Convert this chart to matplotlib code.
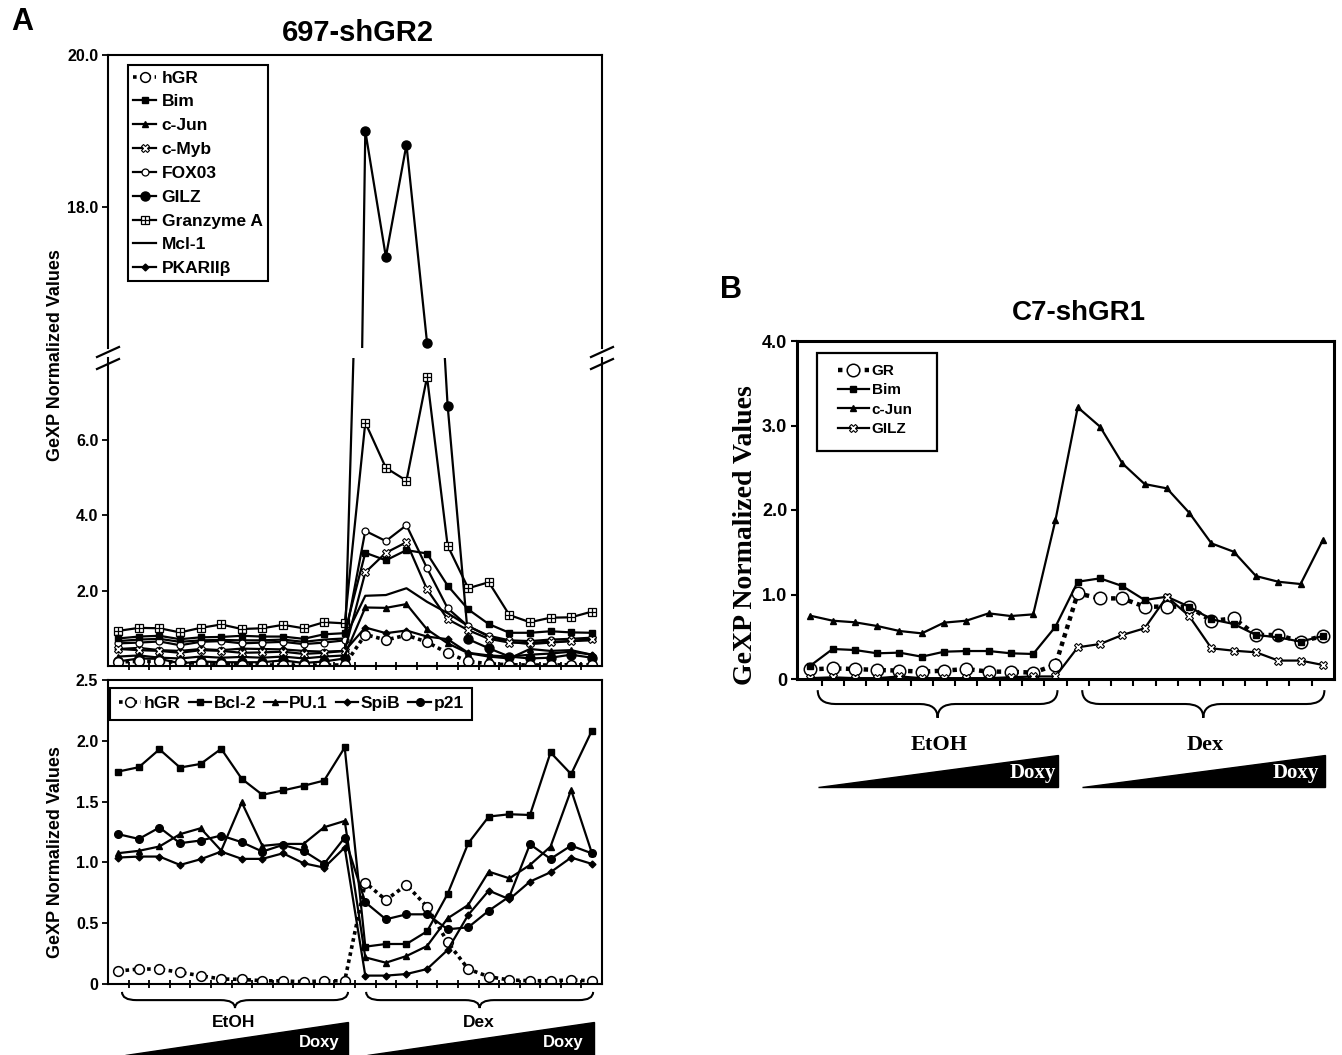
import numpy as np
import matplotlib
matplotlib.use("Agg")
import matplotlib.pyplot as plt
from matplotlib.path import Path
from matplotlib.patches import PathPatch, Polygon, Rectangle
from matplotlib.lines import Line2D
from matplotlib.legend_handler import HandlerTuple
import matplotlib.transforms as mtransforms

plt.rcParams['font.family'] = ['Liberation Sans', 'DejaVu Sans']
plt.rcParams['font.weight'] = 'bold'
plt.rcParams['axes.linewidth'] = 1.5

# ------------------------------------------------------------------ data
groups = ["EtOH", "Dex"]
n_per_group = 12
positions = list(range(2 * n_per_group))

# Panel A, upper chart (697-shGR2)
a_hGR = [0.107, 0.123, 0.123, 0.096, 0.068, 0.041, 0.038, 0.027, 0.025, 0.019, 0.025, 0.027,
         0.834, 0.691, 0.815, 0.636, 0.343, 0.123, 0.060, 0.033, 0.027, 0.027, 0.033, 0.027]
a_Bim = [0.73, 0.78, 0.80, 0.71, 0.76, 0.77, 0.80, 0.78, 0.78, 0.72, 0.84, 0.87,
         3.00, 2.80, 3.07, 2.98, 2.13, 1.50, 1.11, 0.88, 0.88, 0.92, 0.89, 0.88]
a_cJun = [0.25, 0.28, 0.22, 0.20, 0.25, 0.22, 0.24, 0.22, 0.25, 0.20, 0.25, 0.28,
          1.55, 1.54, 1.64, 0.97, 0.60, 0.34, 0.25, 0.20, 0.45, 0.40, 0.42, 0.30]
a_cMyb = [0.45, 0.42, 0.40, 0.35, 0.42, 0.40, 0.35, 0.36, 0.38, 0.32, 0.35, 0.40,
          2.48, 3.00, 3.28, 2.03, 1.24, 0.95, 0.72, 0.62, 0.62, 0.64, 0.66, 0.72]
a_FOX03 = [0.60, 0.62, 0.65, 0.55, 0.64, 0.66, 0.60, 0.62, 0.64, 0.58, 0.62, 0.68,
           3.58, 3.31, 3.73, 2.59, 1.53, 1.05, 0.80, 0.68, 0.66, 0.70, 0.72, 0.75]
a_GILZ = [0.12, 0.20, 0.19, 0.07, 0.12, 0.10, 0.10, 0.10, 0.15, 0.08, 0.12, 0.20,
          19.0, 17.34, 18.82, 16.21, 6.90, 0.71, 0.47, 0.25, 0.20, 0.22, 0.30, 0.22]
a_GranzymeA = [0.93, 1.01, 1.00, 0.89, 1.01, 1.10, 0.98, 1.00, 1.09, 1.00, 1.16, 1.13,
               6.45, 5.25, 4.91, 7.66, 3.19, 2.06, 2.22, 1.35, 1.16, 1.28, 1.29, 1.44]
a_Mcl1 = [0.66, 0.70, 0.72, 0.64, 0.68, 0.69, 0.68, 0.68, 0.70, 0.64, 0.70, 0.73,
          1.86, 1.88, 2.06, 1.70, 1.40, 1.06, 0.78, 0.64, 0.58, 0.62, 0.66, 0.68]
a_PKARIIb = [0.45, 0.48, 0.42, 0.40, 0.45, 0.42, 0.46, 0.45, 0.44, 0.40, 0.38, 0.40,
             1.02, 0.87, 0.94, 0.78, 0.71, 0.35, 0.28, 0.25, 0.30, 0.33, 0.38, 0.30]

# Panel A, lower chart
a2_hGR = a_hGR
a2_Bcl2 = [1.747, 1.783, 1.930, 1.780, 1.810, 1.934, 1.687, 1.556, 1.592, 1.630, 1.673, 1.945,
           0.307, 0.329, 0.329, 0.433, 0.741, 1.157, 1.377, 1.396, 1.390, 1.904, 1.726, 2.080]
a2_PU1 = [1.076, 1.095, 1.131, 1.232, 1.281, 1.097, 1.493, 1.136, 1.152, 1.152, 1.289, 1.341,
          0.219, 0.175, 0.230, 0.312, 0.540, 0.650, 0.924, 0.869, 0.979, 1.130, 1.596, 1.081]
a2_SpiB = [1.040, 1.048, 1.048, 0.979, 1.026, 1.089, 1.029, 1.029, 1.075, 0.993, 0.957, 1.122,
           0.069, 0.069, 0.082, 0.123, 0.280, 0.568, 0.768, 0.697, 0.842, 0.919, 1.040, 0.988]
a2_p21 = [1.232, 1.193, 1.287, 1.158, 1.180, 1.221, 1.166, 1.089, 1.144, 1.095, 0.988, 1.204,
          0.672, 0.532, 0.573, 0.573, 0.450, 0.466, 0.603, 0.719, 1.149, 1.029, 1.138, 1.075]

# Panel B (C7-shGR1)
b_GR = [0.114, 0.126, 0.118, 0.107, 0.099, 0.087, 0.099, 0.118, 0.087, 0.087, 0.075, 0.166,
        1.013, 0.954, 0.954, 0.856, 0.856, 0.856, 0.687, 0.718, 0.521, 0.521, 0.442, 0.509]
b_Bim = [0.158, 0.355, 0.343, 0.304, 0.312, 0.264, 0.323, 0.331, 0.331, 0.304, 0.296, 0.619,
         1.151, 1.191, 1.100, 0.935, 0.974, 0.856, 0.706, 0.651, 0.521, 0.493, 0.442, 0.509]
b_cJun = [0.749, 0.690, 0.671, 0.627, 0.568, 0.540, 0.667, 0.690, 0.777, 0.745, 0.765, 1.881,
          3.215, 2.986, 2.552, 2.307, 2.256, 1.968, 1.605, 1.506, 1.218, 1.151, 1.124, 1.645]
b_GILZ = [0.01, 0.02, 0.01, 0.01, 0.03, 0.01, 0.01, 0.01, 0.01, 0.02, 0.03, 0.03,
          0.375, 0.414, 0.521, 0.600, 0.974, 0.745, 0.363, 0.335, 0.316, 0.218, 0.218, 0.166]

# ------------------------------------------------------------------ styles
K = 'black'
st_gr = dict(color=K, ls=(0, (1, 1)), lw=2.6, marker='o', ms=7, mfc='white', mec=K, mew=1.1)
st_sq = dict(color=K, lw=1.6, marker='s', ms=5, mfc=K, mec=K)
st_tri = dict(color=K, lw=1.6, marker='^', ms=5, mfc=K, mec=K)
st_myb = dict(color=K, lw=1.6, marker='X', ms=5.5, mfc='white', mec=K, mew=0.8)
st_fox = dict(color=K, lw=1.6, marker='o', ms=5, mfc='white', mec=K, mew=0.9)
st_gilz = dict(color=K, lw=1.6, marker='o', ms=6.5, mfc=K, mec=K)
st_gzm = dict(color=K, lw=1.6, marker='s', ms=5.5, mfc='white', mec=K, mew=0.9)
st_mcl = dict(color=K, lw=1.6)
st_pka = dict(color=K, lw=1.6, marker='D', ms=3.5, mfc=K, mec=K)
st_p21 = dict(color=K, lw=1.6, marker='o', ms=5.5, mfc=K, mec=K)

fig = plt.figure(figsize=(13.42, 10.55), dpi=100)
W, H = 1342.0, 1055.0


def fx(px):
    return px / W


def fy(py):
    return 1 - py / H


ax_up = fig.add_axes([fx(108), fy(348), fx(602) - fx(108), (348 - 55) / H])
ax_lo = fig.add_axes([fx(108), fy(666), fx(602) - fx(108), (666 - 358) / H])
ax_bot = fig.add_axes([fx(108), fy(984), fx(602) - fx(108), (984 - 680) / H])
ax_b = fig.add_axes([fx(797), fy(679), fx(1334) - fx(797), (679 - 341) / H])

x = np.array(positions)
top_series = [("hGR", a_hGR, st_gr), ("Bim", a_Bim, st_sq), ("c-Jun", a_cJun, st_tri),
              ("c-Myb", a_cMyb, st_myb), ("FOX03", a_FOX03, st_fox), ("GILZ", a_GILZ, st_gilz),
              ("Granzyme A", a_GranzymeA, st_gzm), ("Mcl-1", a_Mcl1, st_mcl),
              ("PKARII\u03b2", a_PKARIIb, st_pka)]

handles = []
labels = []
for ax in (ax_up, ax_lo):
    for name, vals, st in reversed(top_series):
        ln, = ax.plot(x, vals, **st)
        if name == "Granzyme A":
            ov, = ax.plot(x, vals, ls='none', marker='+', ms=5.5, mec=K, mew=0.9)
            h = (ln, ov)
        else:
            h = ln
        if ax is ax_lo:
            handles.insert(0, h)
            labels.insert(0, name)

for ax in (ax_up, ax_lo, ax_bot):
    ax.set_xlim(-0.5, 23.5)
ax_up.set_ylim(16.14, 20.0)
ax_lo.set_ylim(0, 8.16)

ax_up.spines['bottom'].set_visible(False)
ax_lo.spines['top'].set_visible(False)
ax_up.set_xticks([])
ax_up.set_yticks([18.0, 20.0])
ax_up.set_yticklabels(["18.0", "20.0"])
ax_lo.set_yticks([2.0, 4.0, 6.0])
ax_lo.set_yticklabels(["2.0", "4.0", "6.0"])
ax_lo.set_xticks(np.arange(0.5, 23, 1.0))
ax_lo.set_xticklabels([])

for ax in (ax_up, ax_lo, ax_bot):
    ax.tick_params(axis='y', direction='out', length=4, width=1.3, labelsize=11.5, pad=3)
    ax.tick_params(axis='x', direction='inout', length=6, width=1.3)

leg = ax_up.legend(handles, labels, loc='upper left', bbox_to_anchor=(0.04, 0.965),
                   borderaxespad=0, fontsize=12.5, labelspacing=0.5, handlelength=1.35,
                   handletextpad=0.3, borderpad=0.3, fancybox=False, framealpha=1,
                   edgecolor=K, numpoints=1, handler_map={tuple: HandlerTuple(ndivide=1)})
leg.get_frame().set_linewidth(1.5)

# break marks
for xp in (108, 602):
    for yp in (352, 364):
        fig.add_artist(Line2D([fx(xp - 11), fx(xp + 11)], [fy(yp + 5), fy(yp - 5)],
                              color=K, lw=1.6, transform=fig.transFigure))

# ---- lower chart of panel A
bot_series = [("hGR", a2_hGR, st_gr), ("Bcl-2", a2_Bcl2, st_sq), ("PU.1", a2_PU1, st_tri),
              ("SpiB", a2_SpiB, st_pka), ("p21", a2_p21, st_p21)]
bh = []
for name, vals, st in bot_series:
    ln, = ax_bot.plot(x, vals, label=name, **st)
    bh.append(ln)
ax_bot.set_ylim(0, 2.5)
ax_bot.set_yticks([0, 0.5, 1.0, 1.5, 2.0, 2.5])
ax_bot.set_yticklabels(["0", "0.5", "1.0", "1.5", "2.0", "2.5"])
ax_bot.set_xticks(np.arange(0.5, 23, 1.0))
ax_bot.set_xticklabels([])
leg2 = ax_bot.legend(bh, [b for b, _, _ in bot_series], loc='upper left',
                     bbox_to_anchor=(0.004, 0.975), borderaxespad=0, ncol=5, fontsize=12.5,
                     handlelength=1.3, handletextpad=0.15, columnspacing=0.45, borderpad=0.5,
                     fancybox=False, framealpha=1, edgecolor=K, numpoints=1)
leg2.get_frame().set_linewidth(1.5)

ylab_kw = dict(rotation=90, ha='center', va='center', fontsize=13, fontweight='bold')
fig.text(fx(56), fy(355), "GeXP Normalized Values", **ylab_kw)
fig.text(fx(56), fy(852), "GeXP Normalized Values", **ylab_kw)

fig.text(fx(358), fy(33), "697-shGR2", ha='center', va='center', fontsize=21, fontweight='bold')
fig.text(fx(22), fy(22), "A", ha='center', va='center', fontsize=22, fontweight='bold')
fig.text(fx(731), fy(290), "B", ha='center', va='center', fontsize=22, fontweight='bold')


def brace(ax, x0, x1, ytop, ymid, ytip, w=0.7, lw=1.5):
    tr = mtransforms.blended_transform_factory(ax.transData, ax.transAxes)
    xm = 0.5 * (x0 + x1)
    verts = [(x0, ytop), (x0, ymid), (x0 + w, ymid), (xm - w, ymid), (xm, ymid), (xm, ytip),
             (xm, ymid), (xm + w, ymid), (x1 - w, ymid), (x1, ymid), (x1, ytop)]
    codes = [Path.MOVETO, Path.CURVE3, Path.CURVE3, Path.LINETO, Path.CURVE3, Path.CURVE3,
             Path.CURVE3, Path.CURVE3, Path.LINETO, Path.CURVE3, Path.CURVE3]
    ax.add_patch(PathPatch(Path(verts, codes), fc='none', ec=K, lw=lw, transform=tr,
                           clip_on=False))


def wedge(ax, x0, x1, ybot, ytop):
    tr = mtransforms.blended_transform_factory(ax.transData, ax.transAxes)
    ax.add_patch(Polygon([(x0, ybot), (x1, ybot), (x1, ytop)], closed=True, fc=K, ec=K,
                         transform=tr, clip_on=False))


# annotations panel A
brace(ax_bot, 0.18, 11.16, -0.026, -0.053, -0.079)
brace(ax_bot, 12.04, 23.07, -0.026, -0.053, -0.079)
wedge(ax_bot, 0.33, 11.16, -0.235, -0.125)
wedge(ax_bot, 12.08, 23.1, -0.235, -0.125)
trb = mtransforms.blended_transform_factory(ax_bot.transData, ax_bot.transAxes)
ax_bot.text(5.6, -0.128, groups[0], transform=trb, ha='center', va='center', fontsize=12.5,
            fontweight='bold')
ax_bot.text(17.5, -0.128, groups[1], transform=trb, ha='center', va='center', fontsize=12.5,
            fontweight='bold')
ax_bot.text(9.75, -0.194, "Doxy", transform=trb, ha='center', va='center', fontsize=12,
            fontweight='bold', color='white')
ax_bot.text(21.6, -0.194, "Doxy", transform=trb, ha='center', va='center', fontsize=12,
            fontweight='bold', color='white')

# ------------------------------------------------------------------ panel B
serif = ['Liberation Serif', 'DejaVu Serif']
b_series = [("GR", b_GR, dict(st_gr, ms=9, lw=3.2)), ("Bim", b_Bim, st_sq),
            ("c-Jun", b_cJun, st_tri), ("GILZ", b_GILZ, st_myb)]
bhs = []
for name, vals, st in b_series:
    ln, = ax_b.plot(x, vals, **st)
    bhs.append(ln)
ax_b.set_xlim(-0.6, 23.5)
ax_b.set_ylim(0, 4.0)
ax_b.set_yticks([0, 1.0, 2.0, 3.0, 4.0])
ax_b.set_yticklabels(["0", "1.0", "2.0", "3.0", "4.0"])
ax_b.set_xticks(np.arange(0.5, 23, 1.0))
ax_b.set_xticklabels([])
for s in ax_b.spines.values():
    s.set_linewidth(2.2)
ax_b.tick_params(axis='y', direction='out', length=4, width=1.5, labelsize=13, pad=3)
ax_b.tick_params(axis='x', direction='out', length=5, width=1.5)
ax_b.add_patch(Rectangle((0.037, 0.675), 0.223, 0.29, transform=ax_b.transAxes, fc='white',
                         ec=K, lw=1.6, zorder=4))
leg3 = ax_b.legend(bhs, [n for n, _, _ in b_series], loc='upper left',
                   bbox_to_anchor=(0.065, 0.95), borderaxespad=0, fontsize=11, frameon=False,
                   handlelength=2.0, handletextpad=0.2, labelspacing=0.35, numpoints=1)
leg3.set_zorder(5)
fig.text(fx(1079), fy(313), "C7-shGR1", ha='center', va='center', fontsize=20,
         fontweight='bold')
fig.text(fx(746), fy(535), "GeXP Normalized Values", rotation=90, ha='center', va='center',
         fontsize=20, fontweight='bold', family=serif)

brace(ax_b, 0.33, 11.09, -0.033, -0.074, -0.115, w=0.8)
brace(ax_b, 12.2, 23.07, -0.033, -0.074, -0.115, w=0.8)
wedge(ax_b, 0.33, 11.1, -0.32, -0.225)
wedge(ax_b, 12.2, 23.1, -0.32, -0.225)
trB = mtransforms.blended_transform_factory(ax_b.transData, ax_b.transAxes)
ax_b.text(5.8, -0.195, groups[0], transform=trB, ha='center', va='center', fontsize=16,
          fontweight='bold', family=serif)
ax_b.text(17.7, -0.195, groups[1], transform=trB, ha='center', va='center', fontsize=16,
          fontweight='bold', family=serif)
ax_b.text(10.0, -0.278, "Doxy", transform=trB, ha='center', va='center', fontsize=15,
          fontweight='bold', color='white', family=serif)
ax_b.text(21.8, -0.278, "Doxy", transform=trB, ha='center', va='center', fontsize=15,
          fontweight='bold', color='white', family=serif)

fig.savefig("out.png", dpi=100)
